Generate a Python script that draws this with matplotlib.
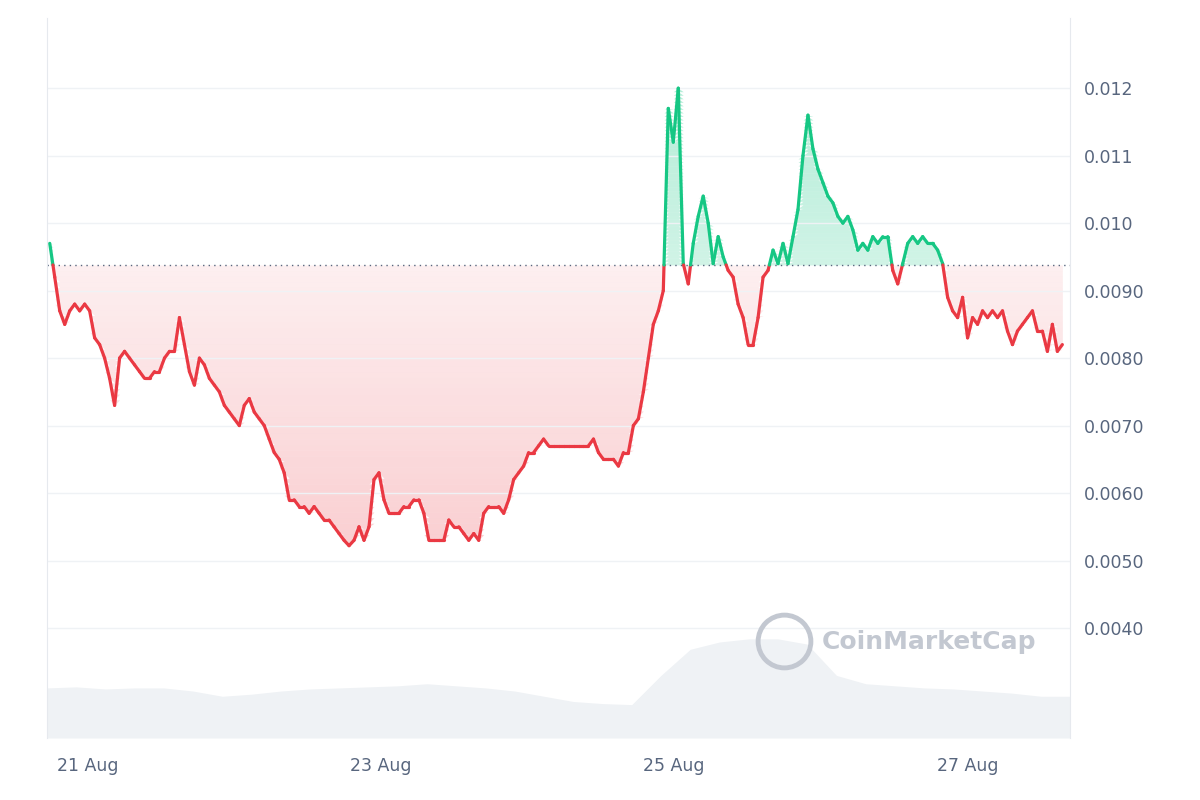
import numpy as np, pandas as pd
import matplotlib
matplotlib.use("Agg")
import matplotlib.pyplot as plt
import matplotlib.dates as mdates
from matplotlib.collections import LineCollection
from matplotlib.lines import Line2D

price = [.0097,.0092,.0087,.0085,.0087,.0088,.0087,.0088,.0087,.0083,.0082,.0080,.0077,.0073,.0080,.0081,.0080,.0079,.0078,.0077,
.0077,.0078,.0078,.0080,.0081,.0081,.0086,.0082,.0078,.0076,.0080,.0079,.0077,.0076,.0075,.0073,.0072,.0071,.0070,.0073,
.0074,.0072,.0071,.0070,.0068,.0066,.0065,.0063,.0059,.0059,.0058,.0058,.0057,.0058,.0057,.0056,.0056,.0055,.0054,.0053,
.00522,.0053,.0055,.0053,.0055,.0062,.0063,.0059,.0057,.0057,.0057,.0058,.0058,.0059,.0059,.0057,.0053,.0053,.0053,.0053,
.0056,.0055,.0055,.0054,.0053,.0054,.0053,.0057,.0058,.0058,.0058,.0057,.0059,.0062,.0063,.0064,.0066,.0066,.0067,.0068,
.0067,.0067,.0067,.0067,.0067,.0067,.0067,.0067,.0067,.0068,.0066,.0065,.0065,.0065,.0064,.0066,.0066,.0070,.0071,.0075,
.0080,.0085,.0087,.0090,.0117,.0112,.0120,.0094,.0091,.0097,.0101,.0104,.0100,.0094,.0098,.0095,.0093,.0092,.0088,.0086,
.0082,.0082,.0086,.0092,.0093,.0096,.0094,.0097,.0094,.0098,.0102,.0110,.0116,.0111,.0108,.0106,.0104,.0103,.0101,.0100,
.0101,.0099,.0096,.0097,.0096,.0098,.0097,.0098,.0098,.0093,.0091,.0094,.0097,.0098,.0097,.0098,.0097,.0097,.0096,.0094,
.0089,.0087,.0086,.0089,.0083,.0086,.0085,.0087,.0086,.0087,.0086,.0087,.0084,.0082,.0084,.0085,.0086,.0087,.0084,.0084,
.0081,.0085,.0081,.0082]
volume = [48,49,47,48,48,45,40,42,45,47,48,49,50,52,50,48,45,40,35,33,32,60,85,92,95,95,90,60,52,50,48,47,45,43,40,40]
baseline = 0.00938
yticks = [0.012,0.011,0.010,0.0090,0.0080,0.0070,0.0060,0.0050,0.0040]
ylabels = ["0.012","0.011","0.010","0.0090","0.0080","0.0070","0.0060","0.0050","0.0040"]
xticks = ["2023-08-21","2023-08-23","2023-08-25","2023-08-27"]
xlabels = ["21 Aug","23 Aug","25 Aug","27 Aug"]

t = pd.date_range("2023-08-20 17:46", periods=len(price), freq="49min")
tv = pd.date_range("2023-08-20 17:17", "2023-08-27 16:52", periods=len(volume))
x = mdates.date2num(t); y = np.array(price)
xv = mdates.date2num(tv)
x0 = mdates.date2num(pd.Timestamp("2023-08-20 17:17")); x1 = mdates.date2num(pd.Timestamp("2023-08-27 16:52"))
Y0, Y1 = 0.00237, 0.01304

RED, GREEN, GREY = "#ea3943", "#16c784", "#58667e"
fig = plt.figure(figsize=(12, 8), dpi=100)
ax = fig.add_axes([0.039, 0.0775, 0.853, 0.9])
axv = ax.twinx()
axv.set_zorder(0); ax.set_zorder(1); ax.patch.set_visible(False)
axv.fill_between(xv, 0, volume, color="#eff2f5", lw=0)
axv.set_ylim(0, 690); axv.set_yticks([])
for s in axv.spines.values(): s.set_visible(False)

xs, ys = [x[0]], [y[0]]
for i in range(len(x)-1):
    if (y[i]-baseline)*(y[i+1]-baseline) < 0:
        f = (baseline-y[i])/(y[i+1]-y[i])
        xs.append(x[i]+f*(x[i+1]-x[i])); ys.append(baseline)
    xs.append(x[i+1]); ys.append(y[i+1])
xs, ys = np.array(xs), np.array(ys)

N = 50
edges = np.linspace(ys.min(), baseline, N + 1)
for k in range(N):
    lo, hi = edges[k], edges[k+1]
    a = 0.24 - 0.16 * (k / (N - 1))
    ax.fill_between(xs, np.clip(ys, lo, hi), hi, color=RED, alpha=a, lw=0, zorder=1)
edges = np.linspace(baseline, ys.max(), N + 1)
for k in range(N):
    lo, hi = edges[k], edges[k+1]
    a = 0.20 + 0.12 * (k / (N - 1))
    ax.fill_between(xs, lo, np.clip(ys, lo, hi), color=GREEN, alpha=a, lw=0, zorder=1)

segs, cols = [], []
for i in range(len(xs)-1):
    segs.append([(xs[i], ys[i]), (xs[i+1], ys[i+1])])
    cols.append(GREEN if (ys[i]+ys[i+1])/2 > baseline else RED)
ax.add_collection(LineCollection(segs, colors=cols, linewidths=2.3, capstyle="round", joinstyle="round", zorder=3))
ax.axhline(baseline, color="#58667e", ls=(0, (1, 3)), lw=1, zorder=2)

ax.set_xlim(x0, x1)
ax.set_ylim(Y0, Y1)
ax.yaxis.tick_right()
ax.set_yticks(yticks); ax.set_yticklabels(ylabels)
ax.set_xticks(mdates.date2num(pd.to_datetime(xticks))); ax.set_xticklabels(xlabels)
ax.tick_params(colors=GREY, labelsize=12.5, length=0, pad=10)
ax.tick_params(axis="x", pad=14)
ax.grid(axis="y", color="#eff2f5", lw=1)
for k, s in ax.spines.items():
    s.set_visible(k in ("left", "right")); s.set_color("#e6e9ee")
fig.add_artist(Line2D([0.653], [0.199], marker="o", ms=38, mfc="none", mec="#c3c8d1", mew=3.5, transform=fig.transFigure))
fig.text(0.685, 0.198, "CoinMarketCap", fontsize=18, color="#c3c8d1", fontweight="bold", ha="left", va="center")
fig.savefig("out.png", dpi=100, facecolor="white")
